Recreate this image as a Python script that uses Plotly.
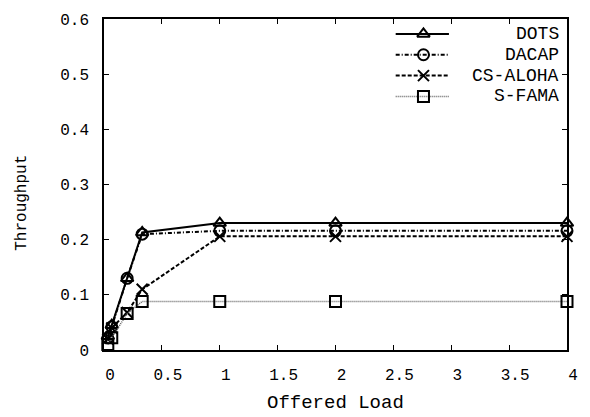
import plotly.graph_objects as go

# ---- data ----
offered_load = [0.033, 0.067, 0.2, 0.33, 1, 2, 4]
dots = [0.025, 0.045, 0.13, 0.213, 0.23, 0.23, 0.23]
dacap = [0.022, 0.042, 0.13, 0.21, 0.216, 0.216, 0.216]
cs_aloha = [0.02, 0.04, 0.068, 0.11, 0.206, 0.206, 0.206]
s_fama = [0.01, 0.022, 0.066, 0.088, 0.088, 0.088, 0.088]

series_names = ["DOTS", "DACAP", "CS-ALOHA", "S-FAMA"]
x_ticks = [0, 0.5, 1, 1.5, 2, 2.5, 3, 3.5, 4]
x_tick_text = ["0", "0.5", "1", "1.5", "2", "2.5", "3", "3.5", "4"]
y_ticks = [0, 0.1, 0.2, 0.3, 0.4, 0.5, 0.6]
y_tick_text = ["0", "0.1", "0.2", "0.3", "0.4", "0.5", "0.6"]

FONT = "Liberation Mono"

styles = [
    dict(line=dict(color="black", width=2, dash="solid"),
         marker=dict(symbol="triangle-up-open", size=11, color="black", line=dict(width=2, color="black"))),
    dict(line=dict(color="black", width=2, dash="4px,2px,1px,2px"),
         marker=dict(symbol="circle-open", size=11, color="black", line=dict(width=2, color="black"))),
    dict(line=dict(color="black", width=2, dash="4px,2px"),
         marker=dict(symbol="x-thin-open", size=11, color="black", line=dict(width=2, color="black"))),
    dict(line=dict(color="#666666", width=1.5, dash="1px,1px"),
         marker=dict(symbol="square-open", size=11, color="black", line=dict(width=2, color="black"))),
]
values = [dots, dacap, cs_aloha, s_fama]

fig = go.Figure()
for name, ys, st in zip(series_names, values, styles):
    fig.add_trace(go.Scatter(x=offered_load, y=ys, name=name, mode="lines+markers",
                             line=st["line"], marker=st["marker"], showlegend=False,
                             cliponaxis=False))

# ---- custom legend (gnuplot style: sample left, text right-aligned) ----
leg_y = [0.955, 0.892, 0.829, 0.766]
for name, ly, st in zip(series_names, leg_y, styles):
    fig.add_trace(go.Scatter(x=[0.63, 0.745], y=[ly, ly], mode="lines", line=st["line"],
                             xaxis="x2", yaxis="y2", showlegend=False, hoverinfo="skip"))
    fig.add_trace(go.Scatter(x=[0.69], y=[ly], mode="markers", marker=st["marker"],
                             xaxis="x2", yaxis="y2", showlegend=False, hoverinfo="skip"))
    fig.add_annotation(x=0.985, y=ly, xref="paper", yref="paper", text=name, showarrow=False,
                       xanchor="right", yanchor="middle", borderpad=0,
                       font=dict(family=FONT, size=18, color="black"))

axis_common = dict(showgrid=False, zeroline=False, showline=True, linecolor="black", linewidth=1.5,
                   mirror="ticks", ticks="inside", ticklen=5, tickwidth=1.2, tickcolor="black",
                   tickfont=dict(family=FONT, size=16, color="black"))

fig.update_layout(
    width=590, height=417,
    margin=dict(l=104, r=17, t=13, b=67),
    paper_bgcolor="white", plot_bgcolor="white",
    xaxis=dict(range=[0, 4], tickvals=x_ticks, ticktext=x_tick_text,
               ticklabelstandoff=9, ticklabelshift=6, **axis_common),
    yaxis=dict(range=[0, 0.6], tickvals=y_ticks, ticktext=y_tick_text,
               ticklabelstandoff=10, **axis_common),
    xaxis2=dict(range=[0, 1], overlaying="x", visible=False, fixedrange=True),
    yaxis2=dict(range=[0, 1], overlaying="y", visible=False, fixedrange=True),
    showlegend=False,
)

fig.add_annotation(x=0.5, y=-0.16, xref="paper", yref="paper", text="Offered Load", showarrow=False,
                   xanchor="center", yanchor="middle", font=dict(family=FONT, size=19, color="black"))
fig.add_annotation(x=-0.177, y=0.445, xref="paper", yref="paper", text="Throughput", showarrow=False,
                   textangle=-90, xanchor="center", yanchor="middle",
                   font=dict(family=FONT, size=16, color="black"))

fig.write_html("out.html")
